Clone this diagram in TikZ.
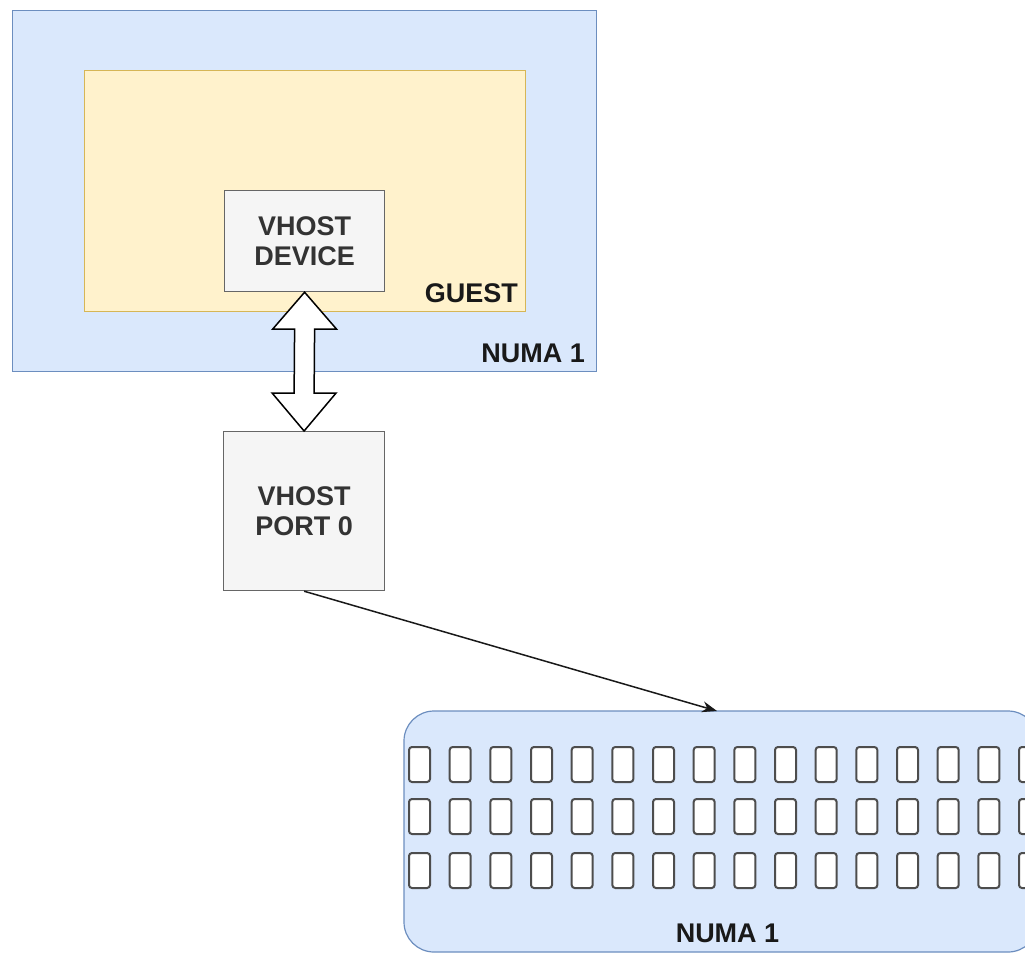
\documentclass[tikz,border=0pt]{standalone}
\usepackage{fontspec}
\setmainfont{Liberation Sans}
\usetikzlibrary{arrows.meta,calc}
\definecolor{numaFill}{HTML}{DAE8FC}
\definecolor{numaLine}{HTML}{6C8EBF}
\definecolor{guestFill}{HTML}{FFF2CC}
\definecolor{guestLine}{HTML}{D6B656}
\definecolor{grayFill}{HTML}{F5F5F5}
\definecolor{grayLine}{HTML}{666666}
\definecolor{txtGray}{HTML}{333333}
\definecolor{cellLine}{HTML}{4D4D4D}
\begin{document}
\begin{tikzpicture}[x=1pt,y=-1pt,
  area/.style={draw, line width=1.2pt, inner sep=0pt, anchor=north west},
  graybox/.style={area, fill=grayFill, draw=grayLine, text=txtGray, align=center,
    font=\fontsize{27}{30}\selectfont\bfseries},
  lbl/.style={inner sep=0pt, anchor=base east, font=\fontsize{27}{30}\selectfont\bfseries, text=black!90},
  cell/.style={draw=cellLine, fill=white, line width=2pt, rounded corners=3pt, inner sep=0pt,
    minimum width=21pt, minimum height=35pt, anchor=north west},
  conn/.style={draw=black!90, line width=1.5pt, -{Stealth[length=15pt,width=11pt]}},
  dbl/.style={draw=black, fill=white, line width=1.5pt, line join=miter}
]
\useasboundingbox (0,0) rectangle (1025,956);
\clip (0,0) rectangle (1025,956);
% top NUMA area
\node[area, fill=numaFill, draw=numaLine, minimum width=584pt, minimum height=361pt] (numaTop) at (12,10) {};
\node[lbl] (numaTopLbl) at (585,362) {NUMA 1};
% guest
\node[area, fill=guestFill, draw=guestLine, minimum width=441pt, minimum height=241pt] (guest) at (84,70) {};
\node[lbl] (guestLbl) at (518,302) {GUEST};
% vhost device
\node[graybox, minimum width=160pt, minimum height=101pt] (dev) at (224,190) {VHOST\\DEVICE};
% vhost port
\node[graybox, minimum width=161pt, minimum height=159pt] (port) at (223,431) {VHOST\\PORT 0};
% double arrow
\draw[dbl] (dev.south) -- ($(dev.south)+(32,37)$) -- ($(dev.south)+(10,37)$)
  -- ($(port.north)+(10,-38)$) -- ($(port.north)+(32,-38)$) -- (port.north)
  -- ($(port.north)+(-32,-38)$) -- ($(port.north)+(-10,-38)$)
  -- ($(dev.south)+(-10,37)$) -- ($(dev.south)+(-32,37)$) -- cycle;
% memory block
\draw[fill=numaFill, draw=numaLine, line width=1.2pt, rounded corners=30pt] (404,711) rectangle (1038,952);
\node[inner sep=0pt, minimum width=634pt, minimum height=241pt, anchor=north west] (mem) at (404,711) {};
\foreach \r/\yy in {0/746,1/798,2/852}{
  \foreach \k in {0,...,15}{
    \node[cell] (c\r-\k) at ({408+\k*40.667},\yy) {};
  }
}
\node[inner sep=0pt, anchor=base, font=\fontsize{27}{30}\selectfont\bfseries, text=black!90] (memLbl) at (727.5,942) {NUMA 1};
% connector
\coordinate (memIn) at (717,711);
\draw[conn] (port.south) -- (memIn);
\end{tikzpicture}
\end{document}
